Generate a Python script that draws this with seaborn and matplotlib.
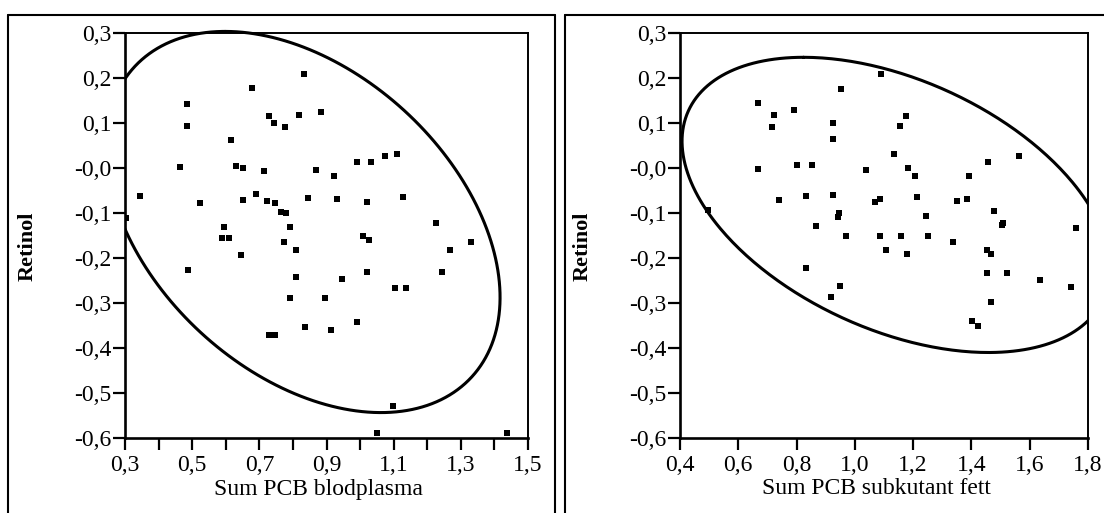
import numpy as np
import pandas as pd
import matplotlib
matplotlib.use("Agg")
import matplotlib.pyplot as plt
from matplotlib.lines import Line2D
from matplotlib.patches import Rectangle
import seaborn as sns

# ---------------- data ----------------
blod_x = [0.679, 0.485, 0.485, 0.729, 0.744, 0.776, 0.818, 0.615, 0.464, 0.632,
          0.650, 0.714, 0.345, 0.523, 0.652, 0.690, 0.722, 0.746, 0.766, 0.779,
          0.791, 0.595, 0.588, 0.611, 0.773, 0.809, 0.645, 0.834, 0.883, 0.868,
          0.923, 0.990, 1.032, 1.074, 1.110, 0.844, 0.930, 1.021, 1.128, 1.010,
          1.027, 1.225, 1.267, 1.329, 0.488, 0.809, 0.791, 0.729, 0.746, 0.945,
          1.022, 1.244, 1.103, 1.136, 0.895, 0.835, 0.913, 0.992, 1.099, 1.051,
          1.436, 0.303]
blod_y = [0.177, 0.143, 0.093, 0.115, 0.099, 0.091, 0.117, 0.063, 0.002, 0.004,
          0.000, -0.007, -0.062, -0.077, -0.072, -0.057, -0.074, -0.077, -0.098, -0.101,
          -0.131, -0.131, -0.155, -0.155, -0.164, -0.183, -0.194, 0.208, 0.125, -0.005,
          -0.018, 0.014, 0.014, 0.026, 0.031, -0.066, -0.069, -0.075, -0.064, -0.151,
          -0.160, -0.123, -0.183, -0.164, -0.227, -0.242, -0.289, -0.370, -0.370, -0.247,
          -0.232, -0.232, -0.266, -0.266, -0.289, -0.353, -0.361, -0.343, -0.529, -0.589,
          -0.588, -0.111]

fett_x = [0.667, 0.724, 0.790, 0.717, 0.669, 0.802, 0.853, 0.740, 0.832, 0.868,
          1.089, 0.953, 0.924, 0.924, 1.177, 1.154, 1.134, 1.039, 1.183, 1.206,
          1.456, 1.564, 1.393, 0.924, 1.068, 1.085, 1.214, 1.349, 1.386, 0.941,
          0.947, 1.244, 1.479, 1.504, 1.510, 0.970, 1.085, 1.158, 1.252, 1.338,
          1.108, 1.179, 1.453, 1.467, 1.760, 0.832, 1.453, 1.522, 1.634, 1.740,
          0.949, 0.918, 1.467, 1.403, 1.424, 0.497]
fett_y = [0.145, 0.118, 0.128, 0.091, -0.003, 0.006, 0.006, -0.072, -0.063, -0.128,
          0.208, 0.176, 0.100, 0.065, 0.116, 0.094, 0.032, -0.004, 0.000, -0.018,
          0.014, 0.026, -0.018, -0.059, -0.076, -0.068, -0.065, -0.074, -0.068, -0.109,
          -0.100, -0.106, -0.096, -0.126, -0.123, -0.150, -0.150, -0.151, -0.151, -0.164,
          -0.182, -0.191, -0.182, -0.192, -0.134, -0.222, -0.233, -0.233, -0.248, -0.265,
          -0.263, -0.286, -0.297, -0.341, -0.352, -0.094]

# density ellipses: centre, top point, half-width along horizontal through centre
blod_ell_center = (0.830, -0.120)
blod_ell_top = (0.598, 0.3035)
blod_ell_halfwidth = 0.539
fett_ell_center = (1.141, -0.082)
fett_ell_top = (0.824, 0.246)
fett_ell_halfwidth = 0.662

blod_xticks = [0.3, 0.5, 0.7, 0.9, 1.1, 1.3, 1.5]
blod_xticklabels = ["0,3", "0,5", "0,7", "0,9", "1,1", "1,3", "1,5"]
blod_xminor = [0.4, 0.6, 0.8, 1.0, 1.2, 1.4]
fett_xticks = [0.4, 0.6, 0.8, 1.0, 1.2, 1.4, 1.6, 1.8]
fett_xticklabels = ["0,4", "0,6", "0,8", "1,0", "1,2", "1,4", "1,6", "1,8"]
yticks = [0.3, 0.2, 0.1, 0.0, -0.1, -0.2, -0.3, -0.4, -0.5, -0.6]
yticklabels = ["0,3", "0,2", "0,1", "-0,0", "-0,1", "-0,2", "-0,3", "-0,4", "-0,5", "-0,6"]

xlabel_left = "Sum PCB blodplasma"
xlabel_right = "Sum PCB subkutant fett"
ylabel = "Retinol"

# ---------------- style ----------------
sns.set_style("ticks")
plt.rcParams["font.family"] = ["Liberation Serif", "DejaVu Serif"]
plt.rcParams["axes.linewidth"] = 1.4

fig = plt.figure(figsize=(11.04, 5.13), dpi=100)
W, H = 1104.0, 513.0
ax1 = fig.add_axes([125 / W, 75 / H, 403 / W, 405 / H])
ax2 = fig.add_axes([680 / W, 75 / H, 408 / W, 405 / H])

df1 = pd.DataFrame({"x": blod_x, "y": blod_y})
df2 = pd.DataFrame({"x": fett_x, "y": fett_y})

def ellipse_curve(center, top, hw, n=400):
    t = np.linspace(0, 2 * np.pi, n)
    cx, cy = center
    ux, uy = top[0] - cx, top[1] - cy
    return cx + ux * np.cos(t) + hw * np.sin(t), cy + uy * np.cos(t)

for ax, df, cen, top, hw, xl, xt, xtl, xlab in [
    (ax1, df1, blod_ell_center, blod_ell_top, blod_ell_halfwidth, (0.3, 1.5),
     blod_xticks, blod_xticklabels, xlabel_left),
    (ax2, df2, fett_ell_center, fett_ell_top, fett_ell_halfwidth, (0.4, 1.8),
     fett_xticks, fett_xticklabels, xlabel_right),
]:
    sns.scatterplot(data=df, x="x", y="y", ax=ax, marker="s", s=13,
                    color="black", linewidth=0, legend=False, zorder=3)
    ex, ey = ellipse_curve(cen, top, hw)
    line, = ax.plot(ex, ey, color="black", lw=2.2, zorder=4)
    clip = Rectangle((0, 0), 1, 1.03, transform=ax.transAxes)
    line.set_clip_path(clip)
    ax.set_xlim(*xl)
    ax.set_ylim(-0.6, 0.3)
    ax.set_xticks(xt)
    ax.set_xticklabels(xtl)
    ax.set_yticks(yticks)
    ax.set_yticklabels(yticklabels)
    for s in ax.spines.values():
        s.set_visible(True)
        s.set_color("black")
    ax.spines["left"].set_linewidth(1.9)
    ax.spines["bottom"].set_linewidth(1.9)
    ax.tick_params(axis="both", which="major", direction="out", length=8.5,
                   width=1.6, labelsize=17, colors="black")
    ax.tick_params(axis="y", which="major", pad=1)
    ax.tick_params(axis="x", which="major", pad=4)
    ax.tick_params(axis="both", which="minor", direction="out", length=8.5,
                   width=1.6, colors="black")
    ax.set_xlabel(xlab, fontsize=17, color="black")
    ax.set_ylabel(ylabel, fontsize=16, fontweight="bold", color="black")
    ax.yaxis.label.set_va("center")
    ax.xaxis.label.set_va("center")
    ax.grid(False)

ax1.set_xticks(blod_xminor, minor=True)
ax1.yaxis.set_label_coords((28 - 125) / 403, (438 - 246) / 405)
ax2.yaxis.set_label_coords((583 - 680) / 408, (438 - 246) / 405)
ax1.xaxis.set_label_coords((318 - 125) / 403, (438 - 489) / 405)
ax2.xaxis.set_label_coords((876 - 680) / 408, (438 - 489) / 405)

# outer panel frames
def fline(x0, y0, x1, y1):
    fig.add_artist(Line2D([x0 / W, x1 / W], [1 - y0 / H, 1 - y1 / H],
                          transform=fig.transFigure, color="black", lw=1.5))

fline(8, 15, 8, 513)
fline(8, 15, 555, 15)
fline(555, 15, 555, 513)
fline(565, 15, 565, 513)
fline(565, 15, 1104, 15)

fig.savefig("out.png", dpi=100, facecolor="white")
